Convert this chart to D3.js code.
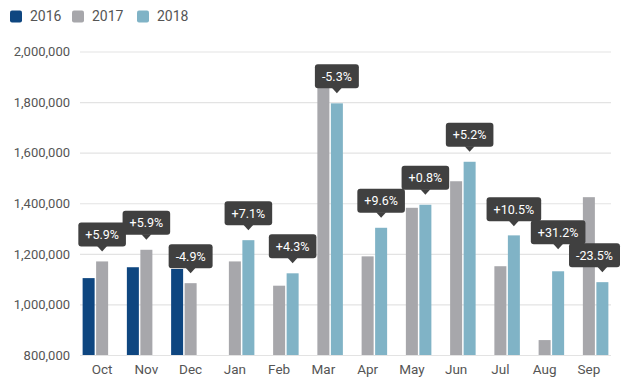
<!DOCTYPE html>
<html>
<head>
<meta charset="utf-8">
<script src="https://cdn.jsdelivr.net/npm/d3@7/dist/d3.min.js"></script>
<style>
  body { margin: 0; background: #fff; }
  svg { display: block; font-family: Roboto, "Noto Sans", sans-serif; }
</style>
</head>
<body>
<div id="container"></div>
<script>
const months = ['Oct', 'Nov', 'Dec', 'Jan', 'Feb', 'Mar', 'Apr', 'May', 'Jun', 'Jul', 'Aug', 'Sep'];
const years = ['2016', '2017', '2018'];
const values2016 = [1104000, 1147000, 1140000, null, null, null, null, null, null, null, null, null];
const values2017 = [1170000, 1216000, 1084000, 1170000, 1074000, 1895000, 1190000, 1382000, 1487000, 1151000, 859000, 1424000];
const values2018 = [null, null, null, 1254000, 1123000, 1795000, 1303000, 1394000, 1564000, 1273000, 1131000, 1088000];
const changeLabels = ['+5.9%', '+5.9%', '-4.9%', '+7.1%', '+4.3%', '-5.3%', '+9.6%', '+0.8%', '+5.2%', '+10.5%', '+31.2%', '-23.5%'];
const yTicks = [800000, 1000000, 1200000, 1400000, 1600000, 1800000, 2000000];

const colors = { '2016': '#0e4680', '2017': '#a7a7ab', '2018': '#80b3c6' };
const series = { '2016': values2016, '2017': values2017, '2018': values2018 };

const width = 630, height = 388;
const plot = { left: 80, right: 611, top: 51.5, bottom: 355 };

const svg = d3.select('#container').append('svg')
    .attr('width', width)
    .attr('height', height);

const x = d3.scaleBand().domain(months).range([plot.left, plot.right]).padding(0);
const xInner = d3.scaleBand().domain(years).range([0, x.bandwidth()])
    .paddingInner(0.111).paddingOuter(0.194);
const y = d3.scaleLinear().domain([800000, 2000000]).range([plot.bottom, plot.top]);

/* y axis with gridlines */
const yAxis = svg.append('g')
    .attr('transform', `translate(${plot.left},0)`)
    .call(d3.axisLeft(y).tickValues(yTicks).tickFormat(d3.format(','))
        .tickSize(-(plot.right - plot.left)).tickPadding(10));
yAxis.select('.domain').remove();
yAxis.selectAll('line').attr('stroke', '#e3e3e3').attr('stroke-width', 1.2);
yAxis.selectAll('text').attr('fill', '#555').attr('font-size', '13px')
    .attr('font-family', 'Roboto, sans-serif');

/* x axis labels */
const xAxis = svg.append('g')
    .attr('transform', `translate(0,${plot.bottom})`)
    .call(d3.axisBottom(x).tickSize(0).tickPadding(9));
xAxis.select('.domain').remove();
xAxis.selectAll('text').attr('fill', '#555').attr('font-size', '13.5px')
    .attr('font-family', 'Roboto, sans-serif');

/* bars */
const barData = [];
years.forEach((yr) => {
    series[yr].forEach((v, i) => {
        if (v != null) barData.push({ year: yr, month: months[i], value: v });
    });
});

svg.append('g').attr('class', 'bars')
    .selectAll('rect')
    .data(barData)
    .join('rect')
    .attr('x', (d) => x(d.month) + xInner(d.year))
    .attr('y', (d) => y(d.value))
    .attr('width', xInner.bandwidth())
    .attr('height', (d) => plot.bottom - y(d.value))
    .attr('fill', (d) => colors[d.year]);

/* change callouts, anchored on the latest bar of each month */
const labelData = months.map((m, i) => {
    const yr = values2018[i] != null ? '2018' : '2017';
    return { month: m, year: yr, value: series[yr][i], text: changeLabels[i] };
});

const boxH = 24;
const labels = svg.append('g').attr('class', 'labels');

/* measure and place */
labelData.forEach((d) => {
    d.cx = x(d.month) + xInner(d.year) + xInner.bandwidth() / 2;
    d.g = labels.append('g');
    d.rect = d.g.append('rect');
    d.pointer = d.g.append('path');
    d.txt = d.g.append('text')
        .attr('fill', '#fff')
        .attr('font-size', '12.5px')
        .attr('text-anchor', 'middle')
        .attr('dy', '0.35em')
        .text(d.text);
    d.w = d.txt.node().getComputedTextLength() + 14;
    d.bx = Math.min(d.cx, 620 - d.w / 2);
    d.bottom = y(d.value) - 15;
});

/* push a box up when it clearly collides with the box to its right */
for (let i = labelData.length - 2; i >= 0; i--) {
    const a = labelData[i], b = labelData[i + 1];
    const overlapX = (a.bx + a.w / 2) - (b.bx - b.w / 2) > 6;
    if (overlapX && a.bottom > b.bottom - boxH && a.bottom - boxH < b.bottom) {
        a.bottom = b.bottom - boxH + 1;
    }
}

labelData.forEach((d) => {
    d.rect.attr('x', d.bx - d.w / 2)
        .attr('y', d.bottom - boxH)
        .attr('width', d.w)
        .attr('height', boxH)
        .attr('rx', 3)
        .attr('fill', '#404040');
    d.pointer
        .attr('d', `M${d.cx - 5},${d.bottom - 0.5} L${d.cx},${d.bottom + 5} L${d.cx + 5},${d.bottom - 0.5} Z`)
        .attr('fill', '#404040');
    d.txt.attr('x', d.bx).attr('y', d.bottom - boxH / 2);
});

/* legend */
const legendX = [10, 72, 137];
const legend = svg.append('g').attr('class', 'legend');
years.forEach((yr, i) => {
    legend.append('rect')
        .attr('x', legendX[i])
        .attr('y', 10.5)
        .attr('width', 12)
        .attr('height', 12)
        .attr('rx', 2)
        .attr('fill', colors[yr]);
    legend.append('text')
        .attr('x', legendX[i] + 20)
        .attr('y', 16.5)
        .attr('dy', '0.35em')
        .attr('fill', '#555')
        .attr('font-size', '14px')
        .text(yr);
});
</script>
</body>
</html>
